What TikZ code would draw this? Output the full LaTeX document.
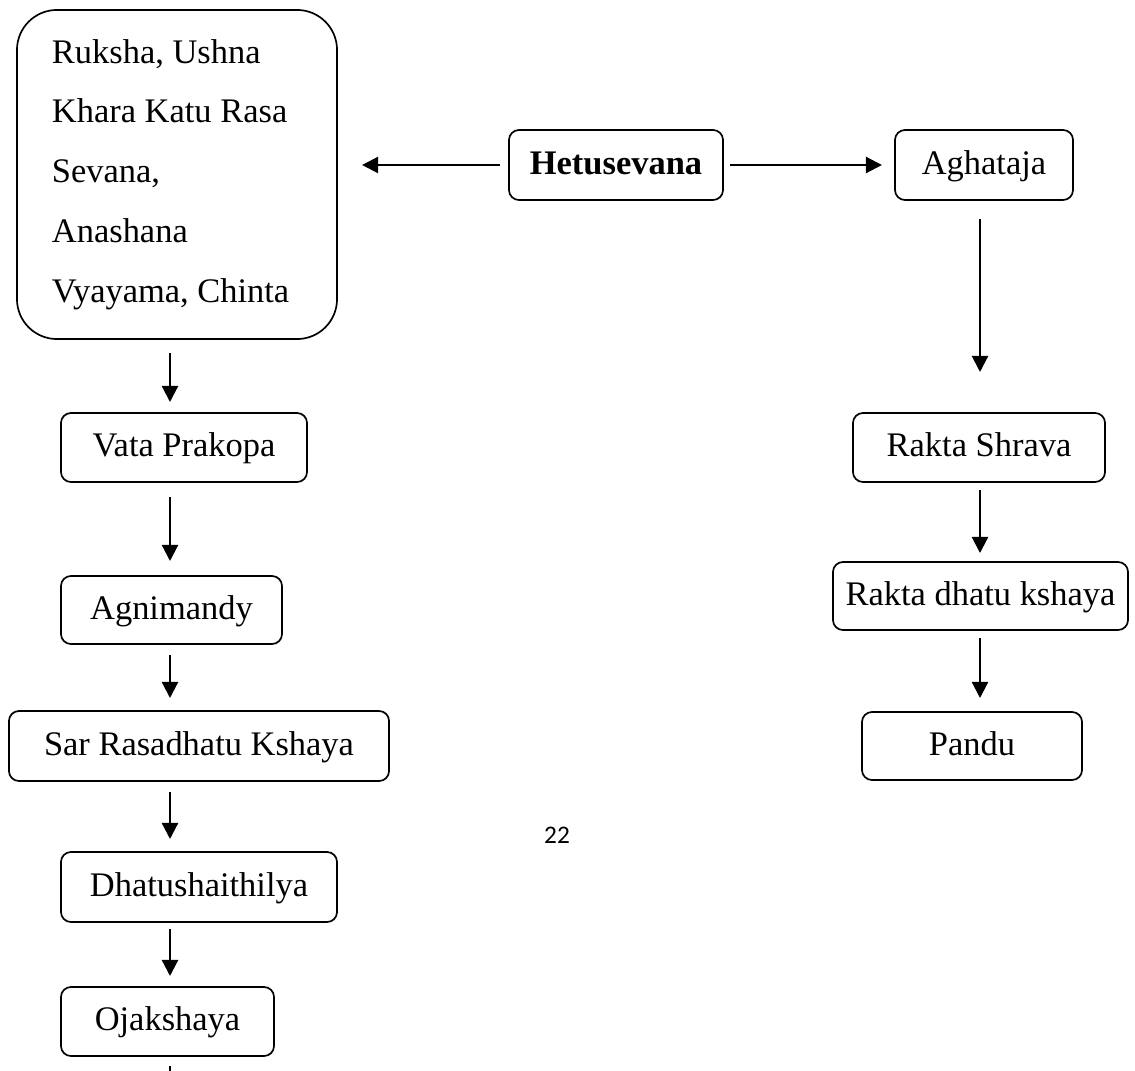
\documentclass[tikz,border=0pt]{standalone}
\usepackage{fontspec}
\setmainfont{Liberation Serif}
\newfontfamily\pagefont{Carlito}
\usetikzlibrary{arrows.meta, positioning, calc}

\begin{document}
\begin{tikzpicture}[x=0.025cm, y=-0.025cm, font=\fontsize{24.5}{42.5}\selectfont,
  box/.style={draw, line width=1.2pt, rounded corners=2.5mm, inner sep=0pt, outer sep=0pt,
    text height=19pt, text depth=6pt},
  arr/.style={line width=1.6pt, -{Triangle[length=4mm, width=4mm]}}]
  \useasboundingbox (0,0) rectangle (1135,1070);

  % causes
  \node[box, rounded corners=1cm, minimum width=80mm, minimum height=82.25mm,
    text height=, text depth=, text width=62.5mm, align=flush left] (risk) at (177,174.5)
    {Ruksha, Ushna\\Khara Katu Rasa\\Sevana,\\Anashana\\Vyayama, Chinta};

  \foreach \nm/\x/\y/\w/\h/\txt in {
      hetu/616/165/53.5/17.5/{\textbf{Hetusevana}},
      agha/984/165/44.5/17.5/{Aghataja},
      rshr/979/447.5/63/17.25/{Rakta Shrava},
      rdk/980.5/596/73.75/17/{Rakta dhatu kshaya},
      pandu/972/746/55/17/{Pandu},
      vata/184/447.5/61.5/17.25/{Vata Prakopa},
      agni/171.5/610/55.25/17/{Agnimandy},
      sar/199/746/95/17.5/{Sar Rasadhatu Kshaya},
      dhatu/199/887/69/17.5/{Dhatushaithilya},
      oja/167.5/1021.5/53.25/17.25/{Ojakshaya}}{
    \node[box, minimum width=\w mm, minimum height=\h mm] (\nm) at (\x,\y) {\txt};
  }

  \node[font=\pagefont\fontsize{18}{20}\selectfont] (pagenum) at (557,835) {22};

  % arrow columns
  \coordinate (lcol) at (170,0);
  \coordinate (rcol) at (980,0);
  \coordinate (ojanext) at (170,1130);

  \draw[arr, shorten <=2.25mm, shorten >=6.25mm] (hetu.west) -- (hetu.west -| risk.east);
  \draw[arr, shorten <=1.75mm, shorten >=3.25mm] (hetu.east) -- (hetu.east -| agha.west);

  \foreach \a/\b/\c/\s/\e in {
      risk/vata/lcol/3.5/2.75, vata/agni/lcol/3.75/3.75, agni/sar/lcol/2.75/3.25,
      sar/dhatu/lcol/2.75/3.25, dhatu/oja/lcol/1.75/2.75,
      agha/rshr/rcol/4.75/10.25, rshr/rdk/rcol/2/2.25, rdk/pandu/rcol/2/3.5}{
    \draw[arr, shorten <=\s mm, shorten >=\e mm] (\a.south -| \c) -- (\b.north -| \c);
  }
  \draw[arr, shorten <=2.5mm] (oja.south -| lcol) -- (ojanext);
\end{tikzpicture}
\end{document}
